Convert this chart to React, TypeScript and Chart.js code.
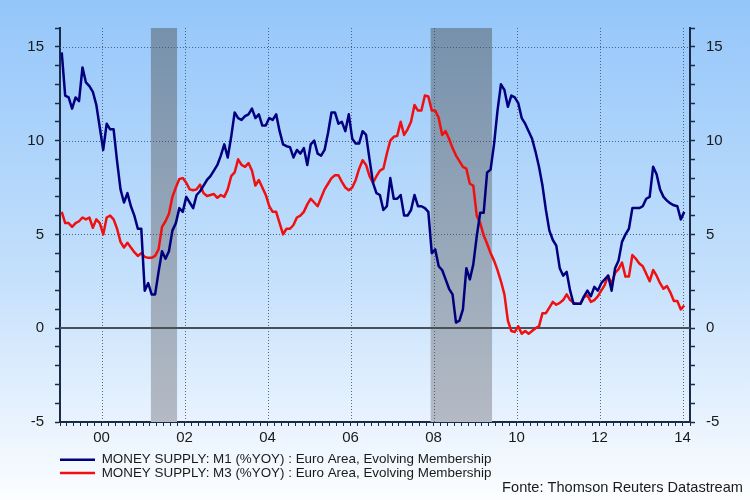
import React, { useEffect, useRef } from "react";
import { Chart, registerables } from "chart.js";

Chart.register(...registerables);

// Monthly observations, Jan 1999 .. Jan 2014
const START_YEAR = 1999;

const M1_YOY = [
  14.7, 12.4, 12.3, 11.7, 12.3, 12.1, 13.9, 13.1, 12.9, 12.6, 11.9, 10.7,
  9.5, 10.9, 10.6, 10.6, 8.9, 7.4, 6.7, 7.2, 6.5, 6.0, 5.3, 5.3,
  2.0, 2.4, 1.8, 1.8, 3.0, 4.1, 3.7, 4.1, 5.2, 5.6, 6.4, 6.2,
  7.0, 6.7, 6.4, 7.1, 7.3, 7.6, 7.9, 8.1, 8.4, 8.7, 9.2, 9.8,
  9.1, 10.2, 11.5, 11.2, 11.1, 11.3, 11.4, 11.7, 11.2, 11.4, 10.8, 10.8,
  11.2, 11.1, 11.4, 10.5, 9.8, 9.7, 9.65, 9.1, 9.5, 9.3, 9.6, 8.7,
  9.8, 10.0, 9.3, 9.2, 9.5, 10.4, 11.5, 11.5, 10.9, 11.0, 10.5, 11.4,
  10.1, 9.85, 9.85, 10.5, 10.3, 9.0, 7.75, 7.2, 7.1, 6.3, 6.5, 8.0,
  6.9, 6.9, 7.1, 6.0, 6.0, 6.3, 7.1, 6.5, 6.5, 6.4, 6.2, 4.0,
  4.2, 3.3, 3.1, 2.6, 2.1, 1.8, 0.3, 0.4, 1.0, 3.2, 2.6, 3.4,
  4.9, 6.15, 6.15, 8.3, 8.45, 9.8, 11.6, 13.0, 12.7, 11.8, 12.4, 12.3,
  12.0, 11.2, 10.9, 10.5, 10.1, 9.4, 8.6, 7.6, 6.3, 5.2, 4.7, 4.4,
  3.2, 2.8, 3.0, 2.0, 1.3, 1.3, 1.3, 1.7, 2.0, 1.7, 2.2, 2.0,
  2.4, 2.6, 2.8, 2.0, 3.2, 3.6, 4.6, 5.0, 5.3, 6.4, 6.4, 6.4,
  6.5, 6.9, 7.0, 8.6, 8.2, 7.4, 7.0, 6.8, 6.65, 6.55, 6.5, 5.8,
  6.2,
];

const M3_YOY = [
  6.2, 5.6, 5.6, 5.4, 5.6, 5.7, 5.9, 5.8, 5.9, 5.35, 5.8, 5.6,
  5.0, 5.9, 6.0, 5.8, 5.3, 4.6, 4.3, 4.55, 4.3, 4.05, 3.85, 4.0,
  3.8, 3.75, 3.75, 3.85, 4.2, 5.4, 5.7, 6.1, 7.0, 7.5, 7.95, 8.0,
  7.75, 7.4, 7.35, 7.4, 7.65, 7.2, 7.05, 7.1, 7.15, 6.95, 7.1, 7.0,
  7.4, 8.1, 8.3, 9.0, 8.7, 8.6, 8.8, 8.4, 7.6, 7.9, 7.5, 7.1,
  6.5, 6.2, 6.2, 5.6, 5.0, 5.3, 5.3, 5.5, 5.9, 6.0, 6.2, 6.6,
  6.9, 6.7, 6.5, 6.95, 7.4, 7.7, 8.0, 8.15, 8.15, 7.8, 7.5, 7.35,
  7.5, 7.9, 8.5, 8.95, 8.7, 8.1, 7.75, 8.1, 8.4, 8.5, 9.3, 10.0,
  10.2, 10.25, 11.0, 10.3, 10.6, 11.0, 11.9, 11.6, 11.6, 12.4, 12.35, 11.6,
  11.6, 11.2, 10.3, 10.5, 10.1, 9.6, 9.2, 8.9, 8.6, 8.5, 7.7, 7.6,
  6.0, 5.6, 4.95, 4.5, 4.0, 3.6, 3.1, 2.5, 1.8, 0.4, -0.15, -0.2,
  0.1, -0.3, -0.15, -0.3, -0.15, 0.0, 0.1, 0.8, 0.8, 1.1, 1.4, 1.25,
  1.35, 1.5, 1.8, 1.5, 1.35, 1.3, 1.3, 1.65, 1.75, 1.4, 1.5, 1.7,
  2.0, 2.3, 2.8, 2.35, 2.95, 3.15, 3.5, 2.75, 2.75, 3.9, 3.7, 3.45,
  3.3, 2.9, 2.5, 3.1, 2.8, 2.4, 2.1, 2.25, 1.9, 1.45, 1.45, 1.0,
  1.2,
];

const SERIES_NAMES = [
  "MONEY SUPPLY: M1 (%YOY) : Euro Area, Evolving Membership",
  "MONEY SUPPLY: M3 (%YOY) : Euro Area, Evolving Membership",
];
const SERIES_COLORS = ["#00007f", "#f01010"];

const X_MIN_YEAR = 1999.0;
const X_MAX_YEAR = 2014.18;
const TICK_YEARS = [2000, 2002, 2004, 2006, 2008, 2010, 2012, 2014];
const Y_MIN = -5;
const Y_MAX = 16;
const Y_LABELS = [-5, 0, 5, 10, 15];
const Y_GRID = [5, 10, 15];
const RECESSIONS = [
  [2001.19, 2001.82],
  [2007.93, 2009.41],
];
const SOURCE = "Fonte: Thomson Reuters Datastream";

const FONT = '"Liberation Sans", Arial, sans-serif';
const AXIS_COLOR = "#1c2b45";

const toMonths = (year: number) => (year - START_YEAR) * 12;

const backgroundPlugin = {
  id: "bgGradient",
  beforeDraw(chart: any) {
    const { ctx, width, height } = chart;
    const g = ctx.createLinearGradient(0, 0, 0, height);
    g.addColorStop(0, "rgb(148,198,250)");
    g.addColorStop(0.55, "rgb(196,224,252)");
    g.addColorStop(1, "rgb(252,253,255)");
    ctx.save();
    ctx.fillStyle = g;
    ctx.fillRect(0, 0, width, height);
    ctx.restore();
  },
};

const bandsAndGridPlugin = {
  id: "bandsGrid",
  beforeDatasetsDraw(chart: any) {
    const { ctx, chartArea } = chart;
    const xs = chart.scales.x;
    const ys = chart.scales.y;
    ctx.save();
    // recession bands
    const bg = ctx.createLinearGradient(0, chartArea.top, 0, chartArea.bottom);
    bg.addColorStop(0, "rgb(118,145,172)");
    bg.addColorStop(1, "rgb(180,186,196)");
    ctx.fillStyle = bg;
    for (const [a, b] of RECESSIONS) {
      const x1 = xs.getPixelForValue(toMonths(a));
      const x2 = xs.getPixelForValue(toMonths(b));
      ctx.fillRect(x1, chartArea.top, x2 - x1, chartArea.bottom - chartArea.top);
    }
    // dotted grid
    ctx.setLineDash([1, 2]);
    ctx.strokeStyle = "rgba(60,80,110,0.85)";
    ctx.lineWidth = 1;
    for (const v of Y_GRID) {
      const y = Math.round(ys.getPixelForValue(v)) + 0.5;
      ctx.beginPath();
      ctx.moveTo(chartArea.left, y);
      ctx.lineTo(chartArea.right, y);
      ctx.stroke();
    }
    for (const yr of TICK_YEARS) {
      const x = Math.round(xs.getPixelForValue(toMonths(yr))) + 0.5;
      ctx.beginPath();
      ctx.moveTo(x, chartArea.top);
      ctx.lineTo(x, chartArea.bottom);
      ctx.stroke();
    }
    // zero line
    ctx.setLineDash([]);
    ctx.strokeStyle = "#4a5058";
    ctx.lineWidth = 2;
    const y0 = Math.round(ys.getPixelForValue(0));
    ctx.beginPath();
    ctx.moveTo(chartArea.left, y0);
    ctx.lineTo(chartArea.right, y0);
    ctx.stroke();
    ctx.restore();
  },
};

const sourcePlugin = {
  id: "sourceText",
  afterDraw(chart: any) {
    const { ctx, width } = chart;
    ctx.save();
    ctx.font = `14.6px ${FONT}`;
    ctx.fillStyle = "#1a1a1a";
    ctx.textAlign = "right";
    ctx.textBaseline = "middle";
    ctx.fillText(SOURCE, width - 7, 488);
    ctx.restore();
  },
};

export default function App() {
  const canvasRef = useRef<HTMLCanvasElement | null>(null);

  useEffect(() => {
    document.body.style.margin = "0";
    const canvas = canvasRef.current;
    if (!canvas) return;

    const series = [M1_YOY, M3_YOY];
    const datasets = series.map((vals, si) => ({
      label: SERIES_NAMES[si],
      data: vals.map((v, i) => ({ x: i + 0.5, y: v })),
      borderColor: SERIES_COLORS[si],
      backgroundColor: SERIES_COLORS[si],
      borderWidth: 2.5,
      pointRadius: 0,
      tension: 0,
      borderJoinStyle: "round" as const,
      fill: false,
    }));

    const tickFont = { family: FONT, size: 15 };

    const chart = new Chart(canvas, {
      type: "line",
      data: { datasets },
      options: {
        animation: false,
        responsive: false,
        maintainAspectRatio: false,
        layout: { padding: { top: 28, right: 0, left: 0, bottom: 10.2 } },
        plugins: {
          legend: {
            display: true,
            position: "bottom",
            align: "start",
            fullSize: false,
            labels: {
              usePointStyle: true,
              pointStyle: "line",
              pointStyleWidth: 35,
              padding: 0,
              color: "#1a1a1a",
              font: { family: FONT, size: 13.4 },
            },
          },
          tooltip: { enabled: false },
        },
        scales: {
          x: {
            type: "linear",
            min: toMonths(X_MIN_YEAR),
            max: toMonths(X_MAX_YEAR),
            afterFit: (s: any) => {
              s.height = 31;
            },
            grid: {
              display: true,
              drawOnChartArea: false,
              drawTicks: true,
              tickLength: 4,
              tickColor: AXIS_COLOR,
              tickWidth: 1,
            },
            border: { display: true, color: AXIS_COLOR, width: 2 },
            ticks: {
              stepSize: 2,
              autoSkip: false,
              maxRotation: 0,
              minRotation: 0,
              padding: 3,
              color: "#1a1a1a",
              font: tickFont,
              callback: (v: any) => {
                const m = Math.round(Number(v));
                if (Math.abs(Number(v) - m) > 1e-6 || m % 12 !== 0) return "";
                const yr = START_YEAR + m / 12;
                return TICK_YEARS.includes(yr) ? String(yr % 100).padStart(2, "0") : "";
              },
            },
          },
          y: {
            type: "linear",
            position: "left",
            min: Y_MIN,
            max: Y_MAX,
            afterFit: (s: any) => {
              s.width = 60;
            },
            grid: {
              display: true,
              drawOnChartArea: false,
              drawTicks: true,
              tickLength: 5,
              tickColor: AXIS_COLOR,
              tickWidth: 1.5,
            },
            border: { display: true, color: AXIS_COLOR, width: 2 },
            ticks: {
              stepSize: 1,
              autoSkip: false,
              padding: 11,
              color: "#1a1a1a",
              font: tickFont,
              callback: (v: any) => (Y_LABELS.includes(Number(v)) ? String(v) : ""),
            },
          },
          y2: {
            type: "linear",
            position: "right",
            min: Y_MIN,
            max: Y_MAX,
            afterFit: (s: any) => {
              s.width = 60;
            },
            grid: {
              display: true,
              drawOnChartArea: false,
              drawTicks: true,
              tickLength: 5,
              tickColor: AXIS_COLOR,
              tickWidth: 1.5,
            },
            border: { display: true, color: AXIS_COLOR, width: 2 },
            ticks: {
              stepSize: 1,
              autoSkip: false,
              padding: 11,
              color: "#1a1a1a",
              font: tickFont,
              callback: (v: any) => (Y_LABELS.includes(Number(v)) ? String(v) : ""),
            },
          },
        },
      },
      plugins: [backgroundPlugin, bandsAndGridPlugin, sourcePlugin],
    });

    return () => chart.destroy();
  }, []);

  return (
    <div style={{ width: 750, height: 500 }}>
      <canvas ref={canvasRef} width={750} height={500} style={{ display: "block", width: 750, height: 500 }} />
    </div>
  );
}
